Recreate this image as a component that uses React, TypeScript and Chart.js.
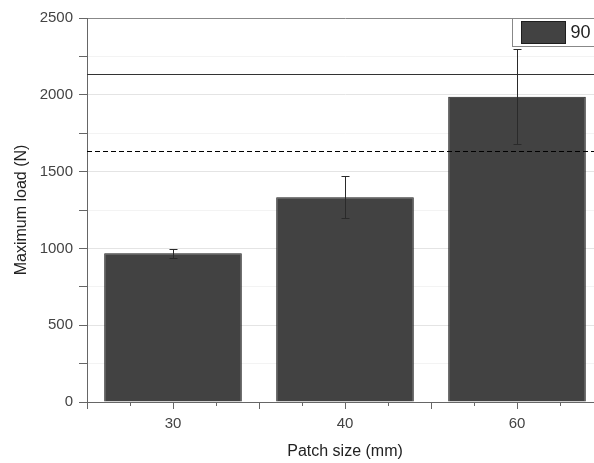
import React, { useEffect, useRef } from 'react';
import { Chart, registerables } from 'chart.js';

Chart.register(...registerables);

const categories: string[] = ['30', '40', '60'];
const seriesLabel = '90';
const maxLoad: number[] = [968, 1333, 1988];
const loadError: number[] = [31, 136, 307];
const solidRefValue = 2135;
const dashedRefValue = 1634;
const yMin = 0;
const yMax = 2500;
const yStep = 250;
const yLabelStep = 500;
const xTitle = 'Patch size (mm)';
const yTitle = 'Maximum load (N)';

const FONT = "'Liberation Sans', Arial, sans-serif";

const overlayPlugin = {
  id: 'overlay',
  afterDatasetsDraw(chart: any) {
    const { ctx, chartArea, scales } = chart;
    const y = scales.y;
    const x = scales.x;
    ctx.save();
    // reference lines
    ctx.lineWidth = 1;
    ctx.strokeStyle = '#333';
    const ys = Math.round(y.getPixelForValue(solidRefValue)) + 0.5;
    ctx.beginPath();
    ctx.moveTo(chartArea.left, ys);
    ctx.lineTo(chartArea.right, ys);
    ctx.stroke();
    ctx.setLineDash([5, 3]);
    ctx.strokeStyle = '#000';
    const yd = Math.round(y.getPixelForValue(dashedRefValue)) + 0.5;
    ctx.beginPath();
    ctx.moveTo(chartArea.left, yd);
    ctx.lineTo(chartArea.right, yd);
    ctx.stroke();
    ctx.setLineDash([]);

    // error bars
    const meta = chart.getDatasetMeta(0);
    ctx.strokeStyle = '#2a2a2a';
    meta.data.forEach((bar: any, i: number) => {
      const cx = Math.round(bar.x) + 0.5;
      const top = Math.round(y.getPixelForValue(maxLoad[i] + loadError[i])) + 0.5;
      const bot = Math.round(y.getPixelForValue(maxLoad[i] - loadError[i])) + 0.5;
      ctx.beginPath();
      ctx.moveTo(cx, top);
      ctx.lineTo(cx, bot);
      ctx.moveTo(cx - 4, top);
      ctx.lineTo(cx + 4, top);
      ctx.moveTo(cx - 4, bot);
      ctx.lineTo(cx + 4, bot);
      ctx.stroke();
    });

    // extra x ticks: centre (major) and quarter (minor)
    ctx.strokeStyle = '#666';
    const axisY = chartArea.bottom;
    categories.forEach((_c, i) => {
      [
        [i - 0.25, 4],
        [i, 7],
        [i + 0.25, 4],
      ].forEach(([v, len]) => {
        const px = Math.round(x.getPixelForDecimal((v + 0.5) / categories.length)) + 0.5;
        ctx.beginPath();
        ctx.moveTo(px, axisY);
        ctx.lineTo(px, axisY + len);
        ctx.stroke();
      });
    });

    // legend box
    const lx = chartArea.right - 90.5;
    const ly = chartArea.top + 0.5;
    ctx.fillStyle = '#fff';
    ctx.fillRect(lx, ly, 120, 28);
    ctx.strokeStyle = '#888';
    ctx.strokeRect(lx, ly, 120, 28);
    ctx.fillStyle = '#424242';
    ctx.fillRect(lx + 9, ly + 3, 44, 22);
    ctx.strokeStyle = '#1e1e1e';
    ctx.strokeRect(lx + 9, ly + 3, 44, 22);
    ctx.fillStyle = '#222';
    ctx.font = `18px ${FONT}`;
    ctx.textBaseline = 'middle';
    ctx.textAlign = 'left';
    ctx.fillText(chart.data.datasets[0].label, lx + 58, ly + 15);
    ctx.restore();
  },
};

export default function App() {
  const ref = useRef<HTMLCanvasElement | null>(null);
  useEffect(() => {
    if (!ref.current) return;
    Chart.defaults.font.family = FONT;
    const chart = new Chart(ref.current, {
      type: 'bar',
      data: {
        labels: categories,
        datasets: [
          {
            label: seriesLabel,
            data: maxLoad,
            backgroundColor: '#424242',
            borderColor: '#1e1e1e',
            borderWidth: 1,
            barPercentage: 0.8,
            categoryPercentage: 1,
          },
        ],
      },
      options: {
        responsive: false,
        animation: false,
        layout: { padding: { top: 18, left: 0, right: 0, bottom: 0 } },
        plugins: { legend: { display: false }, tooltip: { enabled: false } },
        scales: {
          x: {
            type: 'category',
            afterFit: (s: any) => {
              s.height = 61;
            },
            grid: { offset: true, drawOnChartArea: false, tickLength: 7, tickColor: '#666' },
            border: { color: '#666' },
            ticks: { font: { size: 15 }, color: '#444', padding: 6 },
            title: {
              display: true,
              text: xTitle,
              font: { size: 16 },
              color: '#222',
              padding: { top: 0, bottom: 2 },
            },
          },
          y: {
            min: yMin,
            max: yMax,
            afterFit: (s: any) => {
              s.width = 87;
            },
            ticks: {
              stepSize: yStep,
              autoSkip: false,
              font: { size: 15 },
              color: '#444',
              padding: 6,
              callback: (v: any) => (Number(v) % yLabelStep === 0 ? String(v) : ''),
            },
            grid: {
              tickLength: 8,
              tickColor: '#666',
              color: (c: any) => {
                const v = c.tick ? c.tick.value : 0;
                if (v === yMax) return '#888';
                return v % yLabelStep === 0 ? '#e4e4e4' : '#f3f3f3';
              },
            },
            border: { color: '#666' },
            title: {
              display: true,
              text: yTitle,
              font: { size: 16 },
              color: '#222',
              padding: { top: 12, bottom: 0 },
            },
          },
        },
      },
      plugins: [overlayPlugin],
    } as any);
    return () => chart.destroy();
  }, []);
  return (
    <div
      style={{
        position: 'fixed',
        left: 0,
        top: 0,
        width: 594,
        height: 463,
        overflow: 'hidden',
        background: '#fff',
      }}
    >
      <canvas ref={ref} width={603} height={463} style={{ display: 'block' }} />
    </div>
  );
}
